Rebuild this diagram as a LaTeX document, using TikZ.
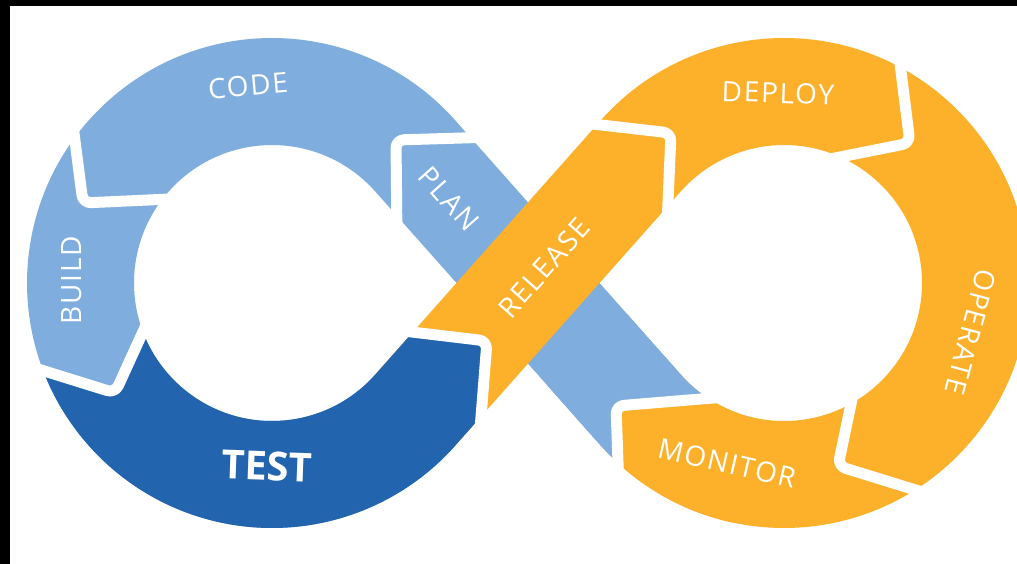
\documentclass[tikz,border=0pt]{standalone}
\usepackage{fontspec}
\setmainfont{Open Sans}
\newfontfamily\lblfont[LetterSpace=6]{Open Sans}
\newfontfamily\testfont{Open Sans}
\usetikzlibrary{calc}
\definecolor{lblue}{HTML}{7FADDE}
\definecolor{dblue}{HTML}{2264AE}
\definecolor{orng}{HTML}{FDB02A}
\tikzset{
  gapline/.style={white, line width=11pt, rounded corners=8pt, line join=round},
  lbl/.style={text=white, inner sep=0pt, font=\lblfont\fontsize{28}{30}\selectfont},
  testlbl/.style={text=white, inner sep=0pt, font=\testfont\bfseries\fontsize{40}{42}\selectfont}
}
\begin{document}
\begin{tikzpicture}[x=1pt,y=1pt]
\useasboundingbox (0,0) rectangle (1017,-564);
\fill[black] (0,0) rectangle (1017,-564);
\fill[white] (10,-6) rectangle (1017,-564);
\coordinate (L) at (272,-283);
\coordinate (R) at (784,-283);
\coordinate (LoA) at ($(L)+(41.6:245)$);
\coordinate (LiA) at ($(L)+(41.6:138)$);
\coordinate (LoB) at ($(L)+(-41.6:245)$);
\coordinate (LiB) at ($(L)+(-41.6:138)$);
\coordinate (RoA) at ($(R)+(138.4:245)$);
\coordinate (RiA) at ($(R)+(138.4:138)$);
\coordinate (RoB) at ($(R)+(221.6:245)$);
\coordinate (RiB) at ($(R)+(221.6:138)$);
% chevrons
\coordinate (j1a) at (495,-137); \coordinate (j1b) at (396,-140); \coordinate (j1c) at (397,-240);
\coordinate (j2a) at (71,-110);  \coordinate (j2b) at (83,-203);  \coordinate (j2c) at (170,-199);
\coordinate (j3a) at (25,-365);  \coordinate (j3b) at (115,-393); \coordinate (j3c) at (152,-312);
\coordinate (j4a) at (395,-330); \coordinate (j4b) at (487,-341); \coordinate (j4c) at (478,-455);
\coordinate (j5a) at (575,-122); \coordinate (j5b) at (671,-133); \coordinate (j5c) at (667,-225);
\coordinate (j6a) at (897,-40);  \coordinate (j6b) at (910,-143); \coordinate (j6c) at (825,-160);
\coordinate (j7a) at (856,-380); \coordinate (j7b) at (838,-466); \coordinate (j7c) at (935,-496);
\coordinate (j8a) at (725,-397); \coordinate (j8b) at (616,-406); \coordinate (j8c) at (619,-490);
% base fills: left loop + descending band (light blue)
\fill[lblue] (LoA) arc[start angle=41.6,end angle=318.4,radius=245] -- (LiB)
  arc[start angle=318.4,end angle=41.6,radius=138] -- cycle
  (LoA) -- (RiB) -- (RoB) -- (LiA) -- cycle;
% right loop + rising band (orange)
\fill[orng] (RoA) arc[start angle=138.4,end angle=-138.4,radius=245] -- (RiB)
  arc[start angle=-138.4,end angle=138.4,radius=138] -- cycle
  (LiB) -- (RoA) -- (RiA) -- (LoB) -- cycle;
% TEST
\begin{scope}
\clip (j3a) -- (j3b) -- (j3c) -- (L) -- (j4a) -- (j4b) -- (j4c) -- (478,-600) -- (-10,-600) -- (-10,-365) -- cycle;
\fill[dblue] (LoA) arc[start angle=41.6,end angle=318.4,radius=245] -- (LiB)
  arc[start angle=318.4,end angle=41.6,radius=138] -- cycle
  (LiB) -- (RoA) -- (RiA) -- (LoB) -- cycle;
\end{scope}
% light blue tail entering the right loop
\begin{scope}
\clip (j8c) -- (j8b) -- (j8a) -- (690,-330) -- (650,-293) -- (500,-426) -- (560,-500) -- cycle;
\fill[lblue] (RoA) arc[start angle=138.4,end angle=-138.4,radius=245] -- (RiB)
  arc[start angle=-138.4,end angle=138.4,radius=138] -- cycle
  (LoA) -- (RiB) -- (RoB) -- (LiA) -- cycle;
\end{scope}
% MONITOR head
\begin{scope}
\clip (j8c) -- (j8b) -- (j8a) -- (780,-470) -- (700,-560) -- (619,-560) -- cycle;
\fill[orng] (RoA) arc[start angle=138.4,end angle=-138.4,radius=245] -- (RiB)
  arc[start angle=-138.4,end angle=138.4,radius=138] -- cycle
  (LoA) -- (RiB) -- (RoB) -- (LiA) -- cycle;
\end{scope}
% gaps
\draw[gapline] (j1a) -- (j1b) -- (j1c);
\draw[gapline] (j2a) -- (j2b) -- (j2c);
\draw[gapline] (j3a) -- (j3b) -- (j3c);
\draw[gapline] (j4a) -- (j4b) -- (j4c);
\draw[gapline] (j5a) -- (j5b) -- (j5c);
\draw[gapline] (j6a) -- (j6b) -- (j6c);
\draw[gapline] (j7a) -- (j7b) -- (j7c);
\draw[gapline] (j8a) -- (j8b) -- (j8c);
% labels
\node[lbl, rotate=5] (code) at (248,-86) {CODE};
\node[lbl, rotate=90] (build) at (72,-280) {BUILD};
\node[testlbl, rotate=-2] (test) at (267,-466) {TEST};
\node[lbl, rotate=-48.4] (plan) at (449,-199) {PLAN};
\node[lbl, rotate=48.4] (release) at (544,-268) {RELEASE};
\node[lbl, rotate=-2] (deploy) at (778,-93) {DEPLOY};
\node[lbl, rotate=-105] (operate) at (971,-332) {OPERATE};
\node[lbl, rotate=-13] (monitor) at (727,-463) {MONITOR};
\end{tikzpicture}
\end{document}
